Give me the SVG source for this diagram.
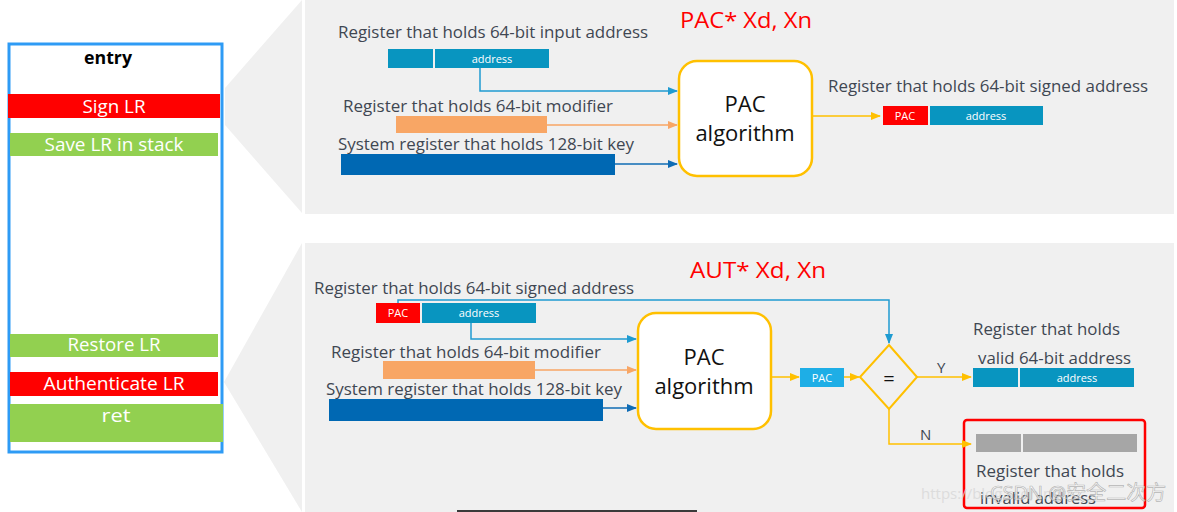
<svg xmlns="http://www.w3.org/2000/svg" width="1177" height="512" viewBox="0 0 1177 512">
<defs>
<style>
.panel{fill:#f0f0f0}
.lbl{font-family:"Open Sans","Noto Sans",sans-serif;font-size:17px;fill:#3f4752}
.btn{font-family:"Open Sans","Noto Sans",sans-serif;font-size:19px;fill:#ffffff;text-anchor:middle}
.small{font-family:"Open Sans","Noto Sans",sans-serif;font-size:11px;fill:#ffffff;text-anchor:middle}
.title{font-family:"Open Sans","Noto Sans",sans-serif;font-size:22px;fill:#ff0000}
.algo{font-family:"Open Sans","Noto Sans",sans-serif;font-size:22px;fill:#111111;text-anchor:middle}
.box{fill:#ffffff;stroke:#ffc000;stroke-width:2.5}
.red{fill:#ff0000}
.green{fill:#92d050}
.teal{fill:#0895c0}
.orange{fill:#f8a665}
.dblue{fill:#0068b3}
.gray{fill:#a6a6a6}
.c{fill:none;stroke-width:1.5}
</style>
<marker id="ab" markerWidth="10" markerHeight="8" refX="9" refY="4" orient="auto" markerUnits="userSpaceOnUse"><path d="M0,0 L10,4 L0,8 z" fill="#1f9bd1"/></marker>
<marker id="ao" markerWidth="10" markerHeight="8" refX="9" refY="4" orient="auto" markerUnits="userSpaceOnUse"><path d="M0,0 L10,4 L0,8 z" fill="#f8a665"/></marker>
<marker id="ad" markerWidth="10" markerHeight="8" refX="9" refY="4" orient="auto" markerUnits="userSpaceOnUse"><path d="M0,0 L10,4 L0,8 z" fill="#0f6cb5"/></marker>
<marker id="ay" markerWidth="10" markerHeight="8" refX="9" refY="4" orient="auto" markerUnits="userSpaceOnUse"><path d="M0,0 L10,4 L0,8 z" fill="#ffc000"/></marker>
</defs>
<rect width="1177" height="512" fill="#ffffff"/>

<!-- background panels -->
<g id="bg">
<polygon class="panel" points="302,0 302,213 225,125 225,88"/>
<rect class="panel" x="305" y="0" width="869" height="214"/>
<polygon class="panel" points="302,243 302,512 224,382"/>
<rect class="panel" x="305" y="243" width="869" height="269"/>
<line x1="457" y1="511" x2="697" y2="511" stroke="#3a3a3a" stroke-width="2"/>
</g>

<!-- left function box -->
<g id="function">
<rect x="9" y="44" width="213" height="408" fill="#ffffff" stroke="#2e9bf5" stroke-width="3"/>
<text x="108" y="64" font-family="Open Sans,Noto Sans,sans-serif" font-size="18" font-weight="bold" text-anchor="middle" fill="#000" textLength="48" lengthAdjust="spacingAndGlyphs">entry</text>
</g>
<g id="signLR"><rect class="red" x="8" y="94" width="212" height="24"/><text class="btn" x="114" y="113" textLength="63" lengthAdjust="spacingAndGlyphs">Sign LR</text></g>
<g id="saveLR"><rect class="green" x="10" y="133" width="208" height="23"/><text class="btn" x="114" y="151" textLength="139" lengthAdjust="spacingAndGlyphs">Save LR in stack</text></g>
<g id="restoreLR"><rect class="green" x="10" y="334" width="208" height="23"/><text class="btn" x="114" y="351" textLength="93" lengthAdjust="spacingAndGlyphs">Restore LR</text></g>
<g id="authLR"><rect class="red" x="10" y="372" width="208" height="24"/><text class="btn" x="114" y="390" textLength="141" lengthAdjust="spacingAndGlyphs">Authenticate LR</text></g>
<g id="ret"><rect class="green" x="10" y="404" width="213" height="38"/><text class="btn" x="116" y="422" textLength="29" lengthAdjust="spacingAndGlyphs">ret</text></g>

<!-- top panel: PAC -->
<text class="title" x="680" y="28" textLength="132" lengthAdjust="spacingAndGlyphs">PAC* Xd, Xn</text>
<g id="pacInput">
<text class="lbl" x="338" y="38" textLength="310" lengthAdjust="spacingAndGlyphs">Register that holds 64-bit input address</text>
<rect class="teal" x="388" y="49" width="45" height="19"/>
<rect class="teal" x="435" y="49" width="114" height="19"/>
<text class="small" x="492" y="63">address</text>
</g>
<g id="pacModifier">
<text class="lbl" x="343" y="112" textLength="270" lengthAdjust="spacingAndGlyphs">Register that holds 64-bit modifier</text>
<rect class="orange" x="396" y="116" width="151" height="17"/>
</g>
<g id="pacKey">
<text class="lbl" x="338" y="150" textLength="296" lengthAdjust="spacingAndGlyphs">System register that holds 128-bit key</text>
<rect class="dblue" x="341" y="154" width="274" height="21"/>
</g>
<g id="pacAlgo">
<rect class="box" x="679" y="61" width="133" height="115" rx="18"/>
<text class="algo" x="745" y="112">PAC</text>
<text class="algo" x="745" y="141">algorithm</text>
</g>
<g id="pacOutput">
<text class="lbl" x="828" y="92" textLength="320" lengthAdjust="spacingAndGlyphs">Register that holds 64-bit signed address</text>
<rect class="red" x="883" y="106" width="45" height="19"/>
<rect class="teal" x="930" y="106" width="113" height="19"/>
<text class="small" x="905" y="120">PAC</text>
<text class="small" x="986" y="120">address</text>
</g>

<!-- bottom panel: AUT -->
<text class="title" x="690" y="278" textLength="136" lengthAdjust="spacingAndGlyphs">AUT* Xd, Xn</text>
<g id="autInput">
<text class="lbl" x="314" y="294" textLength="320" lengthAdjust="spacingAndGlyphs">Register that holds 64-bit signed address</text>
<rect class="red" x="376" y="303" width="44" height="20"/>
<rect class="teal" x="422" y="303" width="114" height="20"/>
<text class="small" x="398" y="317">PAC</text>
<text class="small" x="479" y="317">address</text>
</g>
<g id="autModifier">
<text class="lbl" x="331" y="358" textLength="270" lengthAdjust="spacingAndGlyphs">Register that holds 64-bit modifier</text>
<rect class="orange" x="383" y="361" width="152" height="18"/>
</g>
<g id="autKey">
<text class="lbl" x="326" y="395" textLength="296" lengthAdjust="spacingAndGlyphs">System register that holds 128-bit key</text>
<rect class="dblue" x="329" y="399" width="274" height="22"/>
</g>
<g id="autAlgo">
<rect class="box" x="638" y="313" width="133" height="116" rx="18"/>
<text class="algo" x="704" y="365">PAC</text>
<text class="algo" x="704" y="394">algorithm</text>
</g>
<g id="autPAC">
<rect x="800" y="368" width="44" height="19" fill="#1eaee6"/>
<text class="small" x="822" y="382">PAC</text>
</g>
<g id="compare">
<polygon points="889,345 917,377 889,409 860,377" fill="none" stroke="#ffc000" stroke-width="2"/>
<text x="889" y="386" font-family="Open Sans,Noto Sans,sans-serif" font-size="20" text-anchor="middle" fill="#111">=</text>
</g>
<g id="validReg">
<text class="lbl" x="973" y="335" textLength="147" lengthAdjust="spacingAndGlyphs">Register that holds</text>
<text class="lbl" x="978" y="364" textLength="153" lengthAdjust="spacingAndGlyphs">valid 64-bit address</text>
<rect class="teal" x="973" y="368" width="45" height="19"/>
<rect class="teal" x="1020" y="368" width="114" height="19"/>
<text class="small" x="1077" y="382">address</text>
</g>
<g id="invalidReg">
<rect x="964" y="420" width="181" height="88" rx="3" fill="none" stroke="#ff0000" stroke-width="2.5"/>
<rect class="gray" x="976" y="434" width="45" height="18"/>
<rect class="gray" x="1023" y="434" width="114" height="18"/>
<text class="lbl" x="976" y="477" textLength="148" lengthAdjust="spacingAndGlyphs">Register that holds</text>
<text class="lbl" x="980" y="504" textLength="116" lengthAdjust="spacingAndGlyphs">invalid address</text>
</g>

<!-- connectors -->
<g id="connectors">
<path class="c" d="M480,68 V91 H677" stroke="#1f9bd1" marker-end="url(#ab)"/>
<path class="c" d="M547,125 H677" stroke="#f8a665" marker-end="url(#ao)"/>
<path class="c" d="M615,164 H677" stroke="#0f6cb5" marker-end="url(#ad)"/>
<path class="c" d="M812,116 H880" stroke="#ffc000" marker-end="url(#ay)"/>
<path class="c" d="M398,303 V300 H889 V343" stroke="#1f9bd1" marker-end="url(#ab)"/>
<path class="c" d="M471,323 V339 H636" stroke="#1f9bd1" marker-end="url(#ab)"/>
<path class="c" d="M535,370 H636" stroke="#f8a665" marker-end="url(#ao)"/>
<path class="c" d="M603,408 H636" stroke="#0f6cb5" marker-end="url(#ad)"/>
<path class="c" d="M771,377 H799" stroke="#ffc000" marker-end="url(#ay)"/>
<path class="c" d="M844,377 H859" stroke="#ffc000" marker-end="url(#ay)"/>
<path class="c" d="M917,377 H971" stroke="#ffc000" marker-end="url(#ay)"/>
<path class="c" d="M889,409 V444 H971" stroke="#ffc000" marker-end="url(#ay)"/>
<text x="937" y="373" font-family="Open Sans,Noto Sans,sans-serif" font-size="15" fill="#3f4752">Y</text>
<text x="920" y="440" font-family="Open Sans,Noto Sans,sans-serif" font-size="15" fill="#3f4752">N</text>
</g>

<!-- watermark -->
<g id="watermark" font-family="Open Sans,Noto Sans,Noto Sans CJK SC,sans-serif">
<text x="921" y="499" font-size="15" fill="#d8d8d8" opacity="0.8">https://blog.csdn.net/</text>
<text x="990" y="500" font-size="20" fill="#ffffff" fill-opacity="0.6" stroke="#8a8a8a" stroke-opacity="0.6" stroke-width="0.7">CSDN @安全二次方</text>
</g>
</svg>
